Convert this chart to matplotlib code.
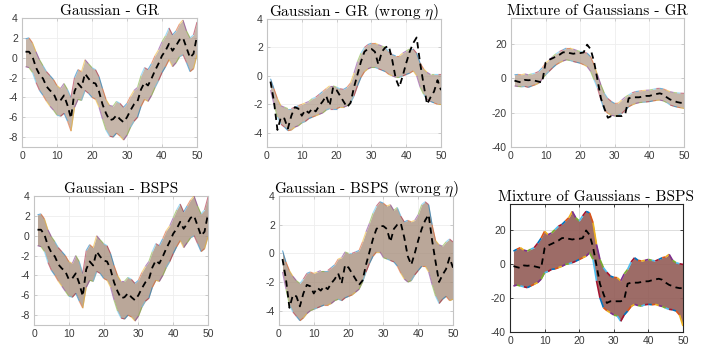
import numpy as np
import matplotlib
matplotlib.use("Agg")
import matplotlib.pyplot as plt
from matplotlib.collections import LineCollection

plt.rcParams["axes.unicode_minus"] = False
plt.rcParams["mathtext.fontset"] = "cm"

steps = list(range(1, 51))

# reference ("true") paths, dashed black
truth_gauss = [0.6, 0.6, 0.1, -1.0, -1.7, -2.1, -2.9, -3.3, -3.6, -4.4,
               -4.3, -3.8, -4.8, -6.1, -3.4, -2.6, -3.0, -1.6, -2.1, -2.5,
               -2.6, -3.4, -4.7, -5.6, -6.3, -6.2, -5.8, -6.2, -6.5, -6.0,
               -5.3, -4.7, -4.4, -3.2, -2.5, -2.8, -2.1, -1.3, -0.6, 0.2,
               0.7, 1.4, 0.7, 1.2, 1.8, 2.0, 1.0, 0.0, 0.4, 2.2]
truth_wrong = [-0.4, -1.8, -3.8, -2.9, -3.0, -3.7, -2.8, -2.2, -2.3, -2.8,
               -2.4, -2.6, -2.3, -2.5, -2.1, -1.8, -1.4, -2.1, -0.8, -1.0,
               -1.4, -1.8, -2.2, -1.9, -0.8, 0.1, 1.0, 1.7, 1.9, 1.9,
               1.7, 0.8, 1.7, 2.0, 2.1, 1.1, -0.2, -0.8, 0.0, 0.9,
               1.7, 2.3, 2.7, 0.9, -0.6, -2.0, -1.5, -1.1, -0.3, -1.0]
truth_mix = [-1.4, -2.0, -2.5, -1.0, -1.2, -1.0, -1.5, -2.0, -2.5, 9.1,
             10.7, 11.6, 12.6, 13.6, 15.0, 15.2, 14.6, 14.2, 14.6, 14.6,
             15.0, 19.5, 16.9, 9.7, -1.0, -11.8, -17.6, -23.0, -22.0, -22.0,
             -22.0, -22.0, -21.0, -11.7, -11.1, -11.1, -11.1, -10.7, -10.3, -10.3,
             -9.7, -9.2, -8.8, -9.4, -11.1, -12.4, -13.1, -13.9, -14.3, -14.3]

# upper / lower edge of the sample ensembles
gr_gauss_hi = [1.9, 2.0, 1.5, 0.6, -0.2, -0.8, -1.4, -1.8, -2.2, -2.8,
               -3.1, -2.6, -3.2, -4.0, -2.0, -1.2, -1.4, -0.2, -0.6, -1.0,
               -1.2, -1.9, -3.1, -4.2, -4.8, -4.9, -4.4, -4.6, -5.0, -4.6,
               -3.9, -3.3, -3.0, -1.8, -1.0, -1.2, -0.6, 0.2, 0.8, 1.6,
               2.2, 3.0, 2.3, 2.7, 3.4, 3.8, 2.7, 2.0, 2.3, 3.6]
gr_gauss_lo = [-0.9, -1.0, -1.5, -2.5, -3.3, -3.8, -4.4, -4.9, -5.3, -5.8,
               -5.9, -5.6, -6.4, -7.4, -5.0, -4.2, -4.3, -3.3, -3.6, -4.0,
               -4.2, -5.0, -6.2, -7.3, -7.9, -8.0, -7.6, -7.9, -8.3, -7.8,
               -7.0, -6.4, -6.0, -4.9, -4.2, -4.4, -3.8, -3.0, -2.3, -1.5,
               -0.9, -0.2, -0.9, -0.5, 0.1, 0.3, -0.5, -1.4, -1.1, 0.3]
bsps_gauss_hi = [2.1, 2.2, 1.7, 0.6, -0.1, -0.6, -1.2, -1.6, -2.0, -2.6,
                 -2.8, -2.0, -2.6, -3.8, -1.5, -0.9, -1.2, 0.0, -0.4, -0.8,
                 -1.0, -1.8, -3.0, -4.0, -4.6, -4.6, -4.2, -4.4, -4.8, -4.5,
                 -3.7, -3.1, -2.6, -1.6, -0.8, -1.0, -0.3, 0.5, 1.0, 1.8,
                 2.6, 3.2, 2.4, 3.0, 3.6, 4.0, 3.0, 2.2, 2.6, 3.9]
bsps_gauss_lo = [-1.0, -1.1, -1.6, -2.7, -3.5, -4.0, -4.6, -5.1, -5.6, -6.1,
                 -6.2, -5.8, -6.6, -7.3, -5.2, -4.5, -4.6, -3.6, -3.8, -4.3,
                 -4.5, -5.2, -6.5, -7.6, -8.3, -8.4, -8.0, -8.2, -8.6, -8.1,
                 -7.2, -6.6, -6.3, -5.2, -4.5, -4.6, -4.0, -3.2, -2.6, -1.8,
                 -1.1, -0.5, -1.2, -0.7, -0.2, 0.0, -0.8, -1.6, -1.3, -0.1]
gr_wrong_hi = [-0.2, -0.9, -1.6, -2.1, -2.2, -2.3, -2.3, -2.2, -2.1, -2.0,
               -1.9, -1.8, -1.6, -1.5, -1.3, -1.1, -0.9, -0.7, -0.7, -0.8,
               -0.9, -0.95, -0.8, -0.5, 0.2, 1.0, 1.6, 2.0, 2.2, 2.3,
               2.3, 2.2, 2.1, 2.0, 1.7, 1.5, 1.4, 1.4, 1.6, 1.75,
               1.9, 1.9, 1.6, 0.9, 0.5, 0.25, 0.1, 0.1, 0.1, 0.1]
gr_wrong_lo = [-1.0, -2.0, -2.9, -3.4, -3.6, -3.85, -3.8, -3.6, -3.5, -3.3,
               -3.2, -3.0, -2.9, -2.8, -2.7, -2.6, -2.4, -2.3, -2.3, -2.3,
               -2.2, -2.2, -2.1, -1.9, -1.4, -0.7, -0.1, 0.3, 0.5, 0.6,
               0.6, 0.5, 0.4, 0.3, 0.1, 0.0, -0.1, -0.1, 0.0, 0.1,
               0.2, 0.35, 0.0, -0.8, -1.3, -1.65, -1.8, -1.9, -2.0, -2.0]
bsps_wrong_hi = [0.2, -0.6, -1.2, -1.6, -1.9, -2.1, -1.8, -1.4, -1.3, -1.4,
                 -1.3, -1.2, -1.2, -1.2, -1.0, -0.8, -0.4, -0.3, 0.1, 0.0,
                 0.0, 0.1, 0.2, 0.8, 1.5, 2.1, 2.8, 3.3, 3.6, 3.5,
                 3.3, 3.4, 3.0, 3.2, 2.6, 2.2, 2.3, 2.2, 2.3, 2.7,
                 3.4, 3.6, 3.4, 2.0, 0.9, 0.6, 0.5, 0.8, 1.0, 0.8]
bsps_wrong_lo = [-1.3, -2.5, -3.6, -4.1, -4.4, -4.7, -4.5, -4.2, -4.0, -3.9,
                 -3.8, -3.7, -3.6, -3.6, -3.5, -3.3, -3.2, -3.3, -3.1, -3.0,
                 -2.9, -2.7, -2.5, -2.0, -1.3, -0.7, -0.2, 0.1, 0.1, -0.3,
                 -0.4, -0.5, -0.6, -0.9, -1.4, -1.8, -2.0, -1.9, -1.5, -1.2,
                 -0.9, -0.9, -1.3, -2.2, -3.0, -3.5, -3.2, -3.0, -3.3, -3.2]
gr_mix_hi = [2.0, 2.2, 2.0, 2.5, 2.0, 2.5, 3.0, 3.9, 6.0, 8.8,
             10.5, 12.5, 14.2, 15.5, 16.5, 17.5, 17.5, 16.9, 16.2, 15.5,
             15.0, 14.6, 12.6, 7.8, 2.0, -3.9, -8.8, -11.8, -13.5, -14.7,
             -14.5, -12.7, -11.0, -9.7, -8.5, -7.8, -7.5, -7.2, -7.0, -6.9,
             -6.5, -6.0, -5.9, -6.2, -7.0, -7.8, -8.3, -8.5, -8.7, -8.8]
gr_mix_lo = [-4.5, -4.8, -5.0, -4.8, -5.3, -4.5, -3.8, -2.9, -0.5, 2.0,
             4.0, 6.0, 7.8, 9.0, 10.0, 10.7, 10.3, 9.7, 9.2, 8.7,
             7.8, 6.7, 3.9, -1.0, -5.9, -12.7, -18.6, -20.5, -21.5, -22.0,
             -21.5, -20.5, -18.5, -16.6, -15.5, -14.7, -14.2, -14.0, -13.8, -13.6,
             -13.2, -12.9, -12.7, -13.2, -14.2, -15.6, -16.3, -16.8, -17.2, -17.6]
bsps_mix_hi = [7.4, 8.5, 9.4, 8.0, 7.4, 8.5, 9.4, 12.0, 15.0, 19.0,
               17.0, 18.0, 20.0, 22.0, 23.0, 25.0, 27.0, 30.7, 27.0, 25.0,
               28.0, 30.7, 29.8, 24.0, 11.3, 2.5, -2.3, -5.0, -7.2, -8.0,
               -8.2, -10.0, -6.0, -3.3, 1.0, 3.5, 2.0, 1.6, 2.0, 2.5,
               2.0, 1.6, 2.5, 3.5, 4.0, 5.5, 2.0, 0.6, 0.0, -0.4]
bsps_mix_lo = [-13.0, -12.5, -13.0, -13.5, -14.0, -13.0, -12.0, -11.0, -9.0, -5.3,
               -4.5, -3.3, -3.0, -2.3, -1.5, -0.4, 0.0, 0.6, 1.5, 2.5,
               3.5, 4.5, 6.4, 2.5, -10.0, -20.0, -25.7, -27.5, -28.7, -30.0,
               -30.6, -33.7, -30.0, -27.7, -25.0, -23.8, -24.5, -24.8, -24.0, -23.8,
               -24.0, -23.8, -24.5, -25.0, -26.0, -26.7, -27.0, -27.7, -30.0, -36.5]

titles = ["Gaussian - GR", r"Gaussian - GR (wrong $\eta$)", "Mixture of Gaussians - GR",
          "Gaussian - BSPS", r"Gaussian - BSPS (wrong $\eta$)", "Mixture of Gaussians - BSPS"]
yticks_gauss = [-8, -6, -4, -2, 0, 2, 4]
yticks_wrong = [-4, -2, 0, 2, 4]
yticks_mix = [-40, -20, 0, 20]
xticks = [0, 10, 20, 30, 40, 50]

MATLAB = ["#0072BD", "#D95319", "#EDB120", "#7E2F8E", "#77AC30", "#4DBEEE", "#A2142F"]

panels = [
    (truth_gauss, gr_gauss_lo, gr_gauss_hi, (-9, 4), yticks_gauss),
    (truth_wrong, gr_wrong_lo, gr_wrong_hi, (-5, 4), yticks_wrong),
    (truth_mix, gr_mix_lo, gr_mix_hi, (-40, 35), yticks_mix),
    (truth_gauss, bsps_gauss_lo, bsps_gauss_hi, (-9, 4), yticks_gauss),
    (truth_wrong, bsps_wrong_lo, bsps_wrong_hi, (-5, 4), yticks_wrong),
    (truth_mix, bsps_mix_lo, bsps_mix_hi, (-40, 35), yticks_mix),
]
# axes boxes in pixels: left, top, right, bottom
boxes = [(22, 18, 197, 147), (267, 19, 441, 147), (511, 18, 684, 147),
         (34, 196, 208, 325), (279, 196, 453, 325), (510, 204, 683, 332)]


def edge_segments(edge):
    return [[(steps[k], edge[k]), (steps[k + 1], edge[k + 1])] for k in range(len(steps) - 1)]


W, H = 716, 352
fig = plt.figure(figsize=(W / 100, H / 100), dpi=100)

for i, ((truth, lo, hi, ylim, yt), (l, t, r, b)) in enumerate(zip(panels, boxes)):
    ax = fig.add_axes([l / W, 1 - b / H, (r - l) / W, (b - t) / H])
    solid = i == 5
    fill_c = "#955f5a" if solid else "#a08672"
    fill_a = [0.6, 0.6, 0.6, 0.72, 0.72, 0.92][i]
    ax.fill_between(steps, lo, hi, color=fill_c, alpha=fill_a, lw=0, zorder=2)
    for j, edge in enumerate([hi, lo]):
        segs = edge_segments(edge)
        cols = [MATLAB[(k + 3 * j) % 7] for k in range(len(segs))]
        ax.add_collection(LineCollection(segs, colors=cols, linewidths=1.2 if solid else 0.8,
                                         alpha=1.0 if solid else 0.55, zorder=3))
    ax.plot(steps, truth, color="black", lw=1.3, ls=(0, (3.5, 2.5)), zorder=5)

    ax.set_xlim(0, 50)
    ax.set_ylim(*ylim)
    ax.set_xticks(xticks)
    ax.set_yticks(yt)
    spine_c = "#262626" if solid else "#c4c4c4"
    ax.grid(True, color="#d8d8d8" if solid else "#eeeeee", lw=0.6, zorder=0)
    ax.set_axisbelow(True)
    for s in ax.spines.values():
        s.set_color(spine_c)
        s.set_linewidth(0.8)
    ax.tick_params(direction="in", length=2.5, width=0.6, color=spine_c,
                   top=True, right=True, labelsize=7.5, labelcolor="#3a3a3a", pad=3)
    for lab in ax.get_xticklabels() + ax.get_yticklabels():
        lab.set_fontfamily("Liberation Sans")
    ax.set_title(titles[i], fontfamily="cmr10", fontsize=11, pad=2)

fig.savefig("out.png", dpi=100)
